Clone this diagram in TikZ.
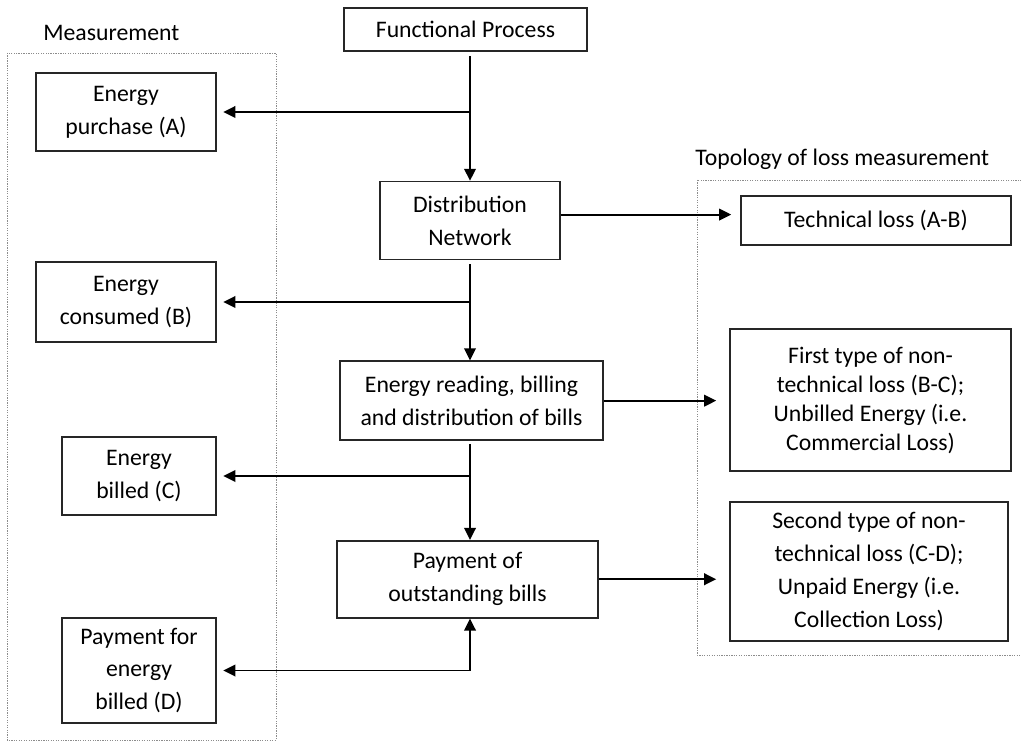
\documentclass[tikz,border=0pt]{standalone}
\usepackage{fontspec}
\setmainfont{Carlito}
\usetikzlibrary{arrows.meta,positioning,calc}

\begin{document}
\begin{tikzpicture}[
    box/.style={draw=black!85, line width=0.9pt, align=center, inner sep=0pt},
    frame/.style={draw=black!45, line width=0.5pt, dash pattern=on 0.7pt off 0.7pt},
    link/.style={->, line width=1.1pt},
    >={Triangle[length=2.4mm,width=2.3mm]},
    font=\fontsize{13.5}{18.7}\selectfont, node distance=2cm
]

\useasboundingbox (0,0) rectangle (20.42,-14.82);

% Frames and headings
\draw[frame] (0.14,-1.06) rectangle (5.52,-14.80);
\draw[frame] (13.94,-3.60) rectangle (20.7,-13.10);
\node[anchor=west, inner sep=0pt] (meas) at (0.86,-0.66) {Measurement};
\node[anchor=west, inner sep=0pt] (topo) at (13.90,-3.18) {Topology of loss measurement};

% Process chain
\node[box, minimum width=4.86cm, minimum height=0.86cm] (fp) at (9.31,-0.59) {Functional Process};
\node[box, minimum width=3.6cm, minimum height=1.56cm, below=2.58cm of fp, xshift=0.09cm] (dn) {Distribution\\Network};
\node[box, minimum width=5.26cm, minimum height=1.58cm, below=2cm of dn, xshift=0.03cm] (erb) {Energy reading, billing\\and distribution of bills};
\node[box, minimum width=5.22cm, minimum height=1.54cm, below=1.98cm of erb, xshift=-0.08cm] (pay) {Payment of\\outstanding bills};

% Measurement boxes
\node[box, minimum width=3.6cm, minimum height=1.56cm] (purch) at (2.52,-2.24) {Energy\\purchase (A)};
\node[box, minimum width=3.6cm, minimum height=1.6cm] (cons) at (2.52,-6.04) {Energy\\consumed (B)};
\node[box, minimum width=3.08cm, minimum height=1.56cm] (billed) at (2.78,-9.52) {Energy\\billed (C)};
\node[box, minimum width=3.08cm, minimum height=2.1cm] (paid) at (2.78,-13.41) {Payment for\\energy\\billed (D)};

% Loss boxes
\node[box, minimum width=5.4cm, minimum height=0.98cm] (tech) at (17.52,-4.41) {Technical loss (A-B)};
\node[box, minimum width=5.62cm, minimum height=2.84cm, font=\fontsize{13.5}{16.5}\selectfont] (first) at (17.41,-8.00) {First type of non-\\technical loss (B-C);\\Unbilled Energy (i.e.\\Commercial Loss)};
\node[box, minimum width=5.56cm, minimum height=2.78cm] (second) at (17.38,-11.43) {Second type of non-\\technical loss (C-D);\\Unpaid Energy (i.e.\\Collection Loss)};

% Down the chain, with branches to the left
\draw[link, shorten <=0.08cm] (dn.north |- fp.south) -- (dn.north);
\draw[link, shorten >=0.13cm] (dn.north |- purch.east) -- (purch.east);
\draw[link, shorten <=0.08cm] (dn.south) -- (dn.south |- erb.north);
\draw[link, shorten >=0.13cm] (dn.south |- cons.east) -- (cons.east);
\draw[link, shorten <=0.06cm] (erb.south -| dn.south) -- (pay.north -| dn.south);
\draw[link, shorten >=0.13cm] (dn.south |- billed.east) -- (billed.east);
\draw[link, <->, shorten >=0.13cm] (pay.south -| dn.south) |- (paid.east);

% Losses on the right
\draw[link, shorten >=0.18cm] ([yshift=0.12cm]dn.east) -- ([yshift=0.12cm]dn.east -| tech.west);
\draw[link, shorten >=0.26cm] (erb.east) -- (erb.east -| first.west);
\draw[link, shorten >=0.26cm] (pay.east) -- (pay.east -| second.west);

\end{tikzpicture}
\end{document}
